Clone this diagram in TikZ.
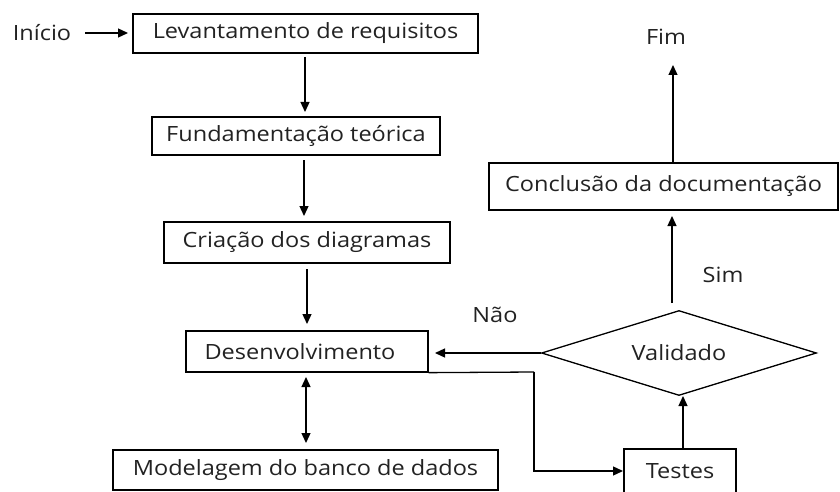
\documentclass[tikz,border=0pt]{standalone}
\usepackage{fontspec}
\setmainfont{Open Sans}[FakeStretch=1.12]
\usetikzlibrary{shapes.geometric,arrows.meta,calc}
\definecolor{ink}{HTML}{222222}
\tikzset{
  box/.style={draw=black, line width=1.3pt, inner sep=0pt, text=ink, font=\fontsize{21}{24}\selectfont},
  lbl/.style={inner sep=0pt, text=ink, font=\fontsize{21}{24}\selectfont},
  arr/.style={line width=1.3pt, -{Triangle[length=10pt,width=9pt]}},
  darr/.style={line width=1.3pt, {Triangle[length=10pt,width=9pt]}-{Triangle[length=10pt,width=9pt]}},
  ln/.style={line width=1.3pt}
}
\begin{document}
\begin{tikzpicture}[x=1pt,y=-1pt]
\useasboundingbox (0,0) rectangle (840,492);
\clip (0,0) rectangle (840,492);
\fill[white] (0,0) rectangle (840,492);
% nodes
\node[lbl] (ini) at (42,33) {Início};
\node[box, minimum width=345pt, minimum height=39pt] (lev) at (305.5,33.5) {Levantamento de requisitos};
\node[box, minimum width=288pt, minimum height=38pt] (fund) at (296,136) {Fundamentação teórica};
\node[box, minimum width=286pt, minimum height=41pt] (cria) at (307,242.5) {Criação dos diagramas};
\node[box, minimum width=242pt, minimum height=41pt] (dev) at (307,351.5) {\hspace*{-14pt}Desenvolvimento};
\node[box, minimum width=385pt, minimum height=40pt] (mod) at (305.5,470) {Modelagem do banco de dados};
\node[box, minimum width=112pt, minimum height=44pt] (tes) at (680,471) {Testes};
\node[box, diamond, aspect=3.235, minimum width=275pt, minimum height=85pt, inner sep=0pt] (val) at (679,353) {Validado};
\node[box, minimum width=349pt, minimum height=47pt] (con) at (663.5,186.5) {Conclusão da documentação};
\node[lbl] (fim) at (666,37) {Fim};
\node[lbl] (nao) at (495,315) {Não};
\node[lbl] (sim) at (723,275) {Sim};
% coordinates
\coordinate (a1) at (85,33);
\coordinate (a2) at (128,33);
\coordinate (b1) at (305,57);
\coordinate (b2) at (305,112);
\coordinate (c1) at (304,160);
\coordinate (c2) at (304,216);
\coordinate (d1) at (307,269);
\coordinate (d2) at (307,324);
\coordinate (e1) at (306,377);
\coordinate (e2) at (306,443);
\coordinate (f1) at (534,372);
\coordinate (f2) at (623,471);
\coordinate (g1) at (683,449);
\coordinate (g2) at (683,396);
\coordinate (h2) at (435,353);
\coordinate (i1) at (672,303);
\coordinate (i2) at (672,216);
\coordinate (j1) at (673,163);
\coordinate (j2) at (673,65);
% connectors
\draw[arr] (a1) -- (a2);
\draw[arr] (b1) -- (b2);
\draw[arr] (c1) -- (c2);
\draw[arr] (d1) -- (d2);
\draw[darr] (e1) -- (e2);
\draw[ln] (dev.south east) -- (f1);
\draw[arr] (f1) |- (f2);
\draw[arr] (g1) -- (g2);
\draw[arr] (val.west) -- (h2);
\draw[arr] (i1) -- (i2);
\draw[arr] (j1) -- (j2);
\end{tikzpicture}
\end{document}
